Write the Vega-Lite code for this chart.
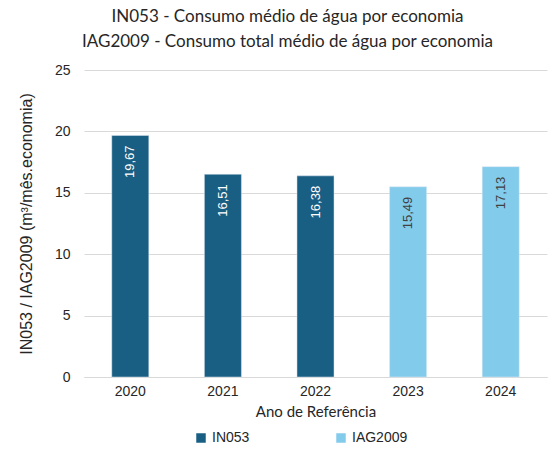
{
  "$schema": "https://vega.github.io/schema/vega-lite/v6.json",
  "width": 548,
  "height": 450,
  "autosize": {"type": "fit", "contains": "padding"},
  "padding": {"left": 18, "right": 1, "top": 8, "bottom": 31},
  "background": "white",
  "title": {
    "text": ["IN053 - Consumo médio de água por economia", "IAG2009 - Consumo total médio de água por economia"],
    "font": "Lato",
    "fontSize": 17,
    "fontWeight": "normal",
    "color": "#262626",
    "lineHeight": 25,
    "offset": 12,
    "anchor": "middle",
    "dx": -28
  },
  "config": {
    "view": {"stroke": null},
    "font": "Liberation Sans"
  },
  "data": {
    "values": [
      {"ano": "2020", "valor": 19.67, "rotulo": "19,67", "serie": "IN053"},
      {"ano": "2021", "valor": 16.51, "rotulo": "16,51", "serie": "IN053"},
      {"ano": "2022", "valor": 16.38, "rotulo": "16,38", "serie": "IN053"},
      {"ano": "2023", "valor": 15.49, "rotulo": "15,49", "serie": "IAG2009"},
      {"ano": "2024", "valor": 17.13, "rotulo": "17,13", "serie": "IAG2009"}
    ]
  },
  "encoding": {
    "x": {
      "field": "ano",
      "type": "nominal",
      "scale": {"paddingInner": 0.6, "paddingOuter": 0.3},
      "axis": {
        "title": "Ano de Referência",
        "titleFont": "Lato",
        "titleFontSize": 15,
        "titleFontWeight": "normal",
        "titleColor": "#262626",
        "titlePadding": 6,
        "labelAngle": 0,
        "labelFontSize": 14,
        "labelColor": "#262626",
        "labelPadding": 7,
        "domainColor": "#d9d9d9",
        "ticks": false
      }
    },
    "y": {
      "field": "valor",
      "type": "quantitative",
      "scale": {"domain": [0, 25]},
      "axis": {
        "title": "IN053 / IAG2009 (m³/mês.economia)",
        "titleFontSize": 16,
        "titleFontWeight": "normal",
        "titleColor": "#262626",
        "titlePadding": 20,
        "values": [0, 5, 10, 15, 20, 25],
        "labelFontSize": 14,
        "labelColor": "#262626",
        "labelPadding": 14,
        "gridColor": "#d9d9d9",
        "domain": false,
        "ticks": false
      }
    }
  },
  "layer": [
    {
      "mark": {"type": "bar", "stroke": "#dfe9f0", "strokeWidth": 0.5},
      "encoding": {
        "color": {
          "field": "serie",
          "type": "nominal",
          "scale": {"domain": ["IN053", "IAG2009"], "range": ["#195e83", "#83cbeb"]},
          "legend": {
            "title": null,
            "orient": "none",
            "legendX": 110,
            "legendY": 361,
            "direction": "horizontal",
            "symbolType": "square",
            "symbolSize": 90,
            "symbolStrokeWidth": 0,
            "labelFontSize": 14,
            "labelColor": "#262626",
            "columnPadding": 84
          }
        }
      }
    },
    {
      "mark": {"type": "text", "angle": 270, "align": "right", "baseline": "middle", "dx": -10, "fontSize": 13},
      "encoding": {
        "text": {"field": "rotulo"},
        "color": {
          "condition": {"test": "datum.serie === 'IN053'", "value": "#ffffff"},
          "value": "#404040"
        }
      }
    }
  ]
}
